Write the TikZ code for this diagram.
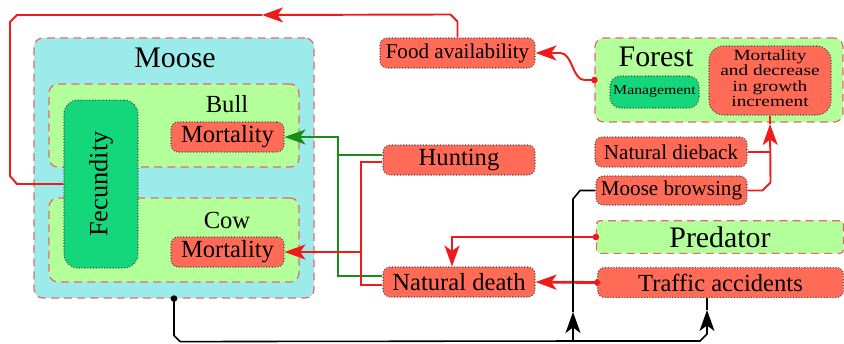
\documentclass[tikz,border=0pt]{standalone}
\usepackage{fontspec}
\setmainfont{Liberation Serif}
\usetikzlibrary{arrows.meta,calc}
\definecolor{moosecyan}{HTML}{9CEBEB}
\definecolor{leafgreen}{HTML}{B3FF99}
\definecolor{darkleaf}{HTML}{14D67A}
\definecolor{tomatofill}{HTML}{FF6B57}
\definecolor{grpred}{HTML}{E46A6A}
\definecolor{linered}{HTML}{F01A1A}
\definecolor{linegreen}{HTML}{1A8C1A}
\newcommand{\fsbig}{\fontsize{17}{19}\selectfont}
\newcommand{\fsmain}{\fontsize{14}{16}\selectfont}
\newcommand{\fssmall}{\fontsize{12}{14}\selectfont}
\tikzset{
  grp/.style={draw=grpred, dash pattern=on 4.5pt off 3pt, line width=0.7pt, rounded corners=5pt},
  moosegrp/.style={grp, fill=moosecyan},
  leafgrp/.style={grp, fill=leafgreen},
  factor/.style={draw=black!70, densely dotted, line width=0.6pt, fill=tomatofill,
    rounded corners=4pt, inner sep=1pt, font=\fsmain},
  keybox/.style={factor, fill=darkleaf, rounded corners=6pt},
  lbl/.style={inner sep=0pt, font=\fsmain},
  biglbl/.style={inner sep=0pt, font=\fsbig},
  link/.style={line width=1.1pt},
  redlink/.style={link, draw=linered},
  greenlink/.style={link, draw=linegreen},
  blacklink/.style={link, line width=0.9pt, draw=black},
  tip/.style={-{Stealth[length=4.2mm,width=3mm,inset=1.1mm]}},
  dottip/.style={{Circle[length=1.3mm]}-{Stealth[length=4.2mm,width=3mm,inset=1.1mm]},
    shorten <=-0.65mm}
}

\begin{document}
\begin{tikzpicture}[x=0.02cm, y=-0.02cm]
  \useasboundingbox (0,0) rectangle (844,343);

  % moose side
  \node[moosegrp, minimum width=5.6cm, minimum height=5.2cm] (moose) at (174,168) {};
  \node[biglbl] (mooselbl) at (175,58) {Moose};
  \node[leafgrp, minimum width=5cm, minimum height=1.66cm] (bull) at (174,125.5) {};
  \node[leafgrp, minimum width=5cm, minimum height=1.68cm] (cow) at (174,240) {};
  \node[lbl] (bulllbl) at (227,104) {Bull};
  \node[lbl] (cowlbl) at (227,220) {Cow};
  \node[keybox, rounded corners=8pt, minimum width=1.48cm, minimum height=3.36cm,
    font=\fontsize{15}{17}\selectfont] (fec) at (101,184) {\rotatebox{90}{Fecundity}};
  \node[factor, minimum width=2.26cm, minimum height=0.6cm] (bullmort) at (227.5,137) {Mortality};
  \node[factor, minimum width=2.26cm, minimum height=0.6cm] (cowmort) at (227.5,252) {Mortality};

  % middle column
  \node[factor, font=\fssmall, minimum width=3.1cm, minimum height=0.6cm] (food) at (457.5,53) {Food availability};
  \node[factor, minimum width=3.04cm, minimum height=0.6cm] (hunt) at (459,160) {Hunting};
  \node[factor, minimum width=3.04cm, minimum height=0.6cm] (natdeath) at (459,282) {Natural death};

  % forest side
  \node[leafgrp, minimum width=4.96cm, minimum height=1.68cm] (forest) at (719,80) {};
  \node[biglbl] (forestlbl) at (656,57) {Forest};
  \node[keybox, inner sep=0pt, font=\fontsize{9}{10}\selectfont, minimum width=1.78cm,
    minimum height=0.64cm] (mgmt) at (654.5,92) {\scalebox{1}[0.85]{Management}};
  \node[factor, rounded corners=8pt, inner sep=0pt, font=\fontsize{11}{11}\selectfont,
    minimum width=2.44cm, minimum height=1.38cm] (fmort) at (770,80.5)
    {\scalebox{1}[0.8]{\begin{tabular}{@{}c@{}}Mortality\\and decrease\\in growth\\increment\end{tabular}}};
  \node[factor, font=\fssmall, minimum width=3.04cm, minimum height=0.6cm] (dieback) at (671,152) {Natural dieback};
  \node[factor, font=\fssmall, minimum width=3.02cm, minimum height=0.58cm] (browse) at (671.5,190.5) {Moose browsing};
  \node[leafgrp, rounded corners=2pt, font=\fsbig, minimum width=4.94cm, minimum height=0.6cm] (pred) at (720,237) {Predator};
  \node[factor, minimum width=4.92cm, minimum height=0.6cm] (traffic) at (720.5,282.5) {Traffic accidents};

  % arrow points on long links
  \coordinate (looptip) at (262,15);
  \coordinate (fmtip) at (770,124);
  \coordinate (jn) at (573,341);
  \coordinate (bwtip) at (573,312);
  \coordinate (trtip) at (707,310);

  % links
  \draw[redlink, dottip] (forest.west) -- ++(-10,0) .. controls +(-12,0) and +(12,0) .. ++(-24,-27) -- (food.east);
  \draw[redlink, tip] (food.north) -- ++(0,-16) -- ++(-7,-7) -- (looptip);
  \draw[redlink] (looptip) -- (17,15) -- (10,22) -- (10,176) -- (17,184) -- (fec.west);
  \draw[greenlink, tip] ($(hunt.west)+(0,-5)$) -| (338,137) -- (bullmort.east);
  \draw[greenlink] ($(natdeath.west)+(0,-6)$) -| (338,150);
  \draw[redlink, tip] ($(hunt.west)+(0,2)$) -| (361,252) -- (cowmort.east);
  \draw[redlink] ($(natdeath.west)+(0,3)$) -| (361,240);
  \draw[redlink, line width=0.8pt, dottip] (pred.west) -| ($(natdeath.north)+(-7,0)$);
  \draw[redlink, line width=1.6pt, dottip] (traffic.west) -- (natdeath.east);
  \draw[redlink] (dieback.east) -- (770,152);
  \draw[redlink, tip] (browse.east) -- ++(15,0) -- ++(8,-8) -- (fmtip);
  \draw[redlink] (fmtip) -- (fmort.south);

  \draw[blacklink, {Circle[length=1.3mm]}-{Stealth[length=4.2mm,width=3mm,inset=1.1mm]},
    shorten <=-0.65mm] (moose.south) -- ++(0,37) -- ++(6,6) -- (jn) -- (bwtip);
  \draw[blacklink] (bwtip) -- (573,199) -- ++(7,-8.5) -- (browse.west);
  \draw[blacklink, tip] (jn) -- (700,341) -- ++(7,-7) -- (trtip);
  \draw[blacklink] (trtip) -- ($(traffic.south)+(-13.5,0)$);
\end{tikzpicture}
\end{document}
